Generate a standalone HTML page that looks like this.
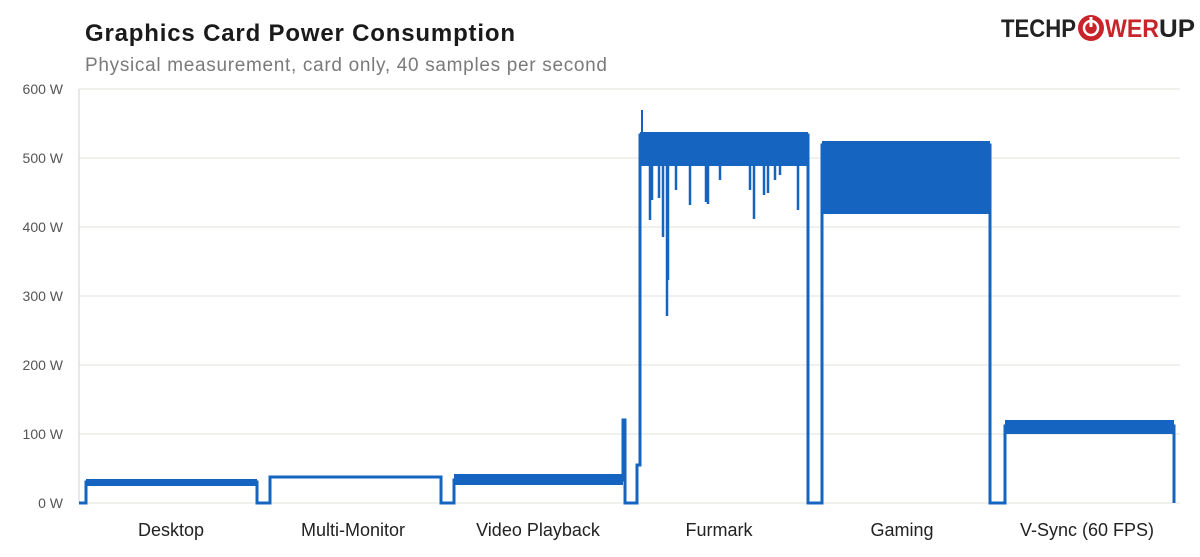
<!DOCTYPE html>
<html><head><meta charset="utf-8"><style>
body{margin:0;background:#fff;width:1200px;height:552px;overflow:hidden;font-family:"Liberation Sans",sans-serif}
</style></head><body>
<svg width="1200" height="552" xmlns="http://www.w3.org/2000/svg">
<text x="85" y="41" font-family="Liberation Sans,sans-serif" font-size="24" font-weight="bold" fill="#1a1a1a" textLength="430" lengthAdjust="spacing">Graphics  Card  Power  Consumption</text>
<text x="85" y="71" font-family="Liberation Sans,sans-serif" font-size="19" fill="#7a7a7a" textLength="522" lengthAdjust="spacing">Physical measurement, card only, 40 samples per second</text>
<text x="1001" y="37" font-family="Liberation Sans,sans-serif" font-size="25" font-weight="bold" fill="#222" textLength="75" lengthAdjust="spacingAndGlyphs">TECHP</text>
<circle cx="1091" cy="28" r="13" fill="#c8252a"/>
<circle cx="1091" cy="28" r="7" fill="none" stroke="#fff" stroke-width="2.5"/>
<rect x="1089.5" y="17" width="3" height="10" fill="#fff"/>
<text x="1105" y="37" font-family="Liberation Sans,sans-serif" font-size="25" font-weight="bold" fill="#c8252a" textLength="54" lengthAdjust="spacingAndGlyphs">WER</text>
<text x="1159" y="37" font-family="Liberation Sans,sans-serif" font-size="25" font-weight="bold" fill="#222" textLength="36" lengthAdjust="spacingAndGlyphs">UP</text>
<g stroke="#e6e2da" stroke-width="1">
<line x1="79" y1="89" x2="1180" y2="89"/><line x1="79" y1="158" x2="1180" y2="158"/>
<line x1="79" y1="227" x2="1180" y2="227"/><line x1="79" y1="296" x2="1180" y2="296"/>
<line x1="79" y1="365" x2="1180" y2="365"/><line x1="79" y1="434" x2="1180" y2="434"/>
<line x1="79" y1="503" x2="1180" y2="503"/>
</g>
<line x1="79" y1="89" x2="79" y2="503" stroke="#d0d0d0"/>
<g font-family="Liberation Sans,sans-serif" font-size="14" fill="#555" text-anchor="end">
<text x="63" y="94">600 W</text><text x="63" y="163">500 W</text><text x="63" y="232">400 W</text>
<text x="63" y="301">300 W</text><text x="63" y="370">200 W</text><text x="63" y="439">100 W</text><text x="63" y="508">0 W</text>
</g>
<g font-family="Liberation Sans,sans-serif" font-size="18" fill="#222" text-anchor="middle">
<text x="171" y="536">Desktop</text><text x="353" y="536">Multi-Monitor</text><text x="538" y="536">Video Playback</text>
<text x="719" y="536">Furmark</text><text x="902" y="536">Gaming</text><text x="1087" y="536">V-Sync (60 FPS)</text>
</g>
<g fill="#1565c0" stroke="none">
<rect x="86" y="479" width="171" height="7"/>
<rect x="454" y="474" width="169" height="11"/>
<rect x="640" y="132" width="168" height="34"/>
<polygon points="641,110 643,110 643,132 641,132"/>
<rect x="822" y="141" width="168" height="73"/>
<rect x="1005" y="420" width="169" height="14"/>
</g>
<g fill="none" stroke="#1565c0" stroke-width="3" stroke-linejoin="miter">
<polyline points="79,503 86,503 86,482 257,482 257,503 270,503 270,477 441,477 441,503 454,503 454,480 623,480 623,420 625,420 625,503 637,503 637,465 640,465 640,135 808,135 808,503 822,503 822,145 990,145 990,503 1005,503 1005,426 1174,426 1174,503"/>
</g>
<g stroke="#1565c0" stroke-width="2.5">
<line x1="650" y1="160" x2="650" y2="220"/><line x1="652" y1="160" x2="652" y2="200"/>
<line x1="663" y1="160" x2="663" y2="237"/><line x1="667" y1="160" x2="667" y2="316"/>
<line x1="668" y1="160" x2="668" y2="280"/><line x1="659" y1="160" x2="659" y2="198"/>
<line x1="676" y1="160" x2="676" y2="190"/><line x1="690" y1="160" x2="690" y2="205"/>
<line x1="706" y1="160" x2="706" y2="202"/><line x1="708" y1="160" x2="708" y2="204"/>
<line x1="720" y1="160" x2="720" y2="180"/><line x1="750" y1="160" x2="750" y2="190"/>
<line x1="754" y1="160" x2="754" y2="219"/><line x1="764" y1="160" x2="764" y2="195"/>
<line x1="768" y1="160" x2="768" y2="193"/><line x1="775" y1="160" x2="775" y2="180"/>
<line x1="798" y1="160" x2="798" y2="210"/><line x1="780" y1="160" x2="780" y2="175"/>
<line x1="961" y1="141" x2="961" y2="188"/>
</g>
</svg>
</body></html>
